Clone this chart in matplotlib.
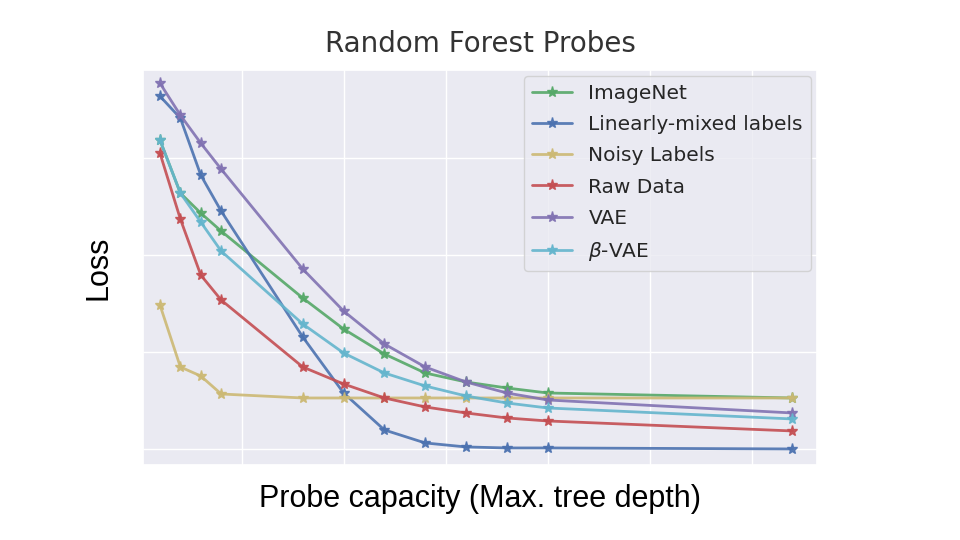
import matplotlib
matplotlib.use("Agg")
import matplotlib.pyplot as plt
import seaborn as sns

sns.set_theme(style="darkgrid")

depth = [1, 2, 3, 4, 8, 10, 12, 14, 16, 18, 20, 32]
imagenet = [3.25, 2.72, 2.52, 2.34, 1.67, 1.36, 1.11, 0.92, 0.83, 0.77, 0.72, 0.67]
linmix = [3.69, 3.47, 2.90, 2.54, 1.28, 0.72, 0.35, 0.22, 0.18, 0.17, 0.17, 0.16]
noisy = [1.60, 0.98, 0.89, 0.71, 0.67, 0.67, 0.67, 0.67, 0.67, 0.67, 0.67, 0.67]
raw = [3.12, 2.46, 1.90, 1.65, 0.98, 0.81, 0.67, 0.58, 0.52, 0.47, 0.44, 0.34]
vae = [3.82, 3.50, 3.22, 2.96, 1.96, 1.54, 1.21, 0.98, 0.83, 0.72, 0.65, 0.52]
bvae = [3.25, 2.72, 2.43, 2.14, 1.41, 1.12, 0.92, 0.79, 0.69, 0.62, 0.57, 0.46]

series = [("ImageNet", imagenet), ("Linearly-mixed labels", linmix),
          ("Noisy Labels", noisy), ("Raw Data", raw), ("VAE", vae),
          (r"$\beta$-VAE", bvae)]
colors = ["#55a868", "#4c72b0", "#ccb974", "#c44e52", "#8172b2", "#64b5cd"]

fig = plt.figure(figsize=(9.6, 5.4), dpi=100)
fig.patch.set_facecolor("white")
ax = fig.add_axes([0.149, 0.139, 0.702, 0.731])

for (name, vals), c in zip(series, colors):
    ax.plot(depth, vals, marker="*", markersize=8, linewidth=2, color=c,
            alpha=0.9, label=name)

ax.set_xlim(0.17, 33.2)
ax.set_ylim(0, 3.95)
ax.set_xticks([5, 10, 15, 20, 25, 30])
ax.set_yticks([0.16, 1.13, 2.10, 3.07])
ax.set_xticklabels([])
ax.set_yticklabels([])
ax.tick_params(length=0)

ax.set_title("Random Forest Probes", fontsize=20, color="#333333", pad=13)
ax.set_xlabel("Probe capacity (Max. tree depth)", fontsize=22, color="black",
              family="Liberation Sans", labelpad=10)
ax.set_ylabel("Loss", fontsize=22, color="black", family="Liberation Sans",
              labelpad=18)
ax.legend(loc="upper right", fontsize=14.5, facecolor="#EAEAF2",
          framealpha=0.8, labelspacing=0.6, borderaxespad=0.3)

fig.savefig("out.png", dpi=100)
